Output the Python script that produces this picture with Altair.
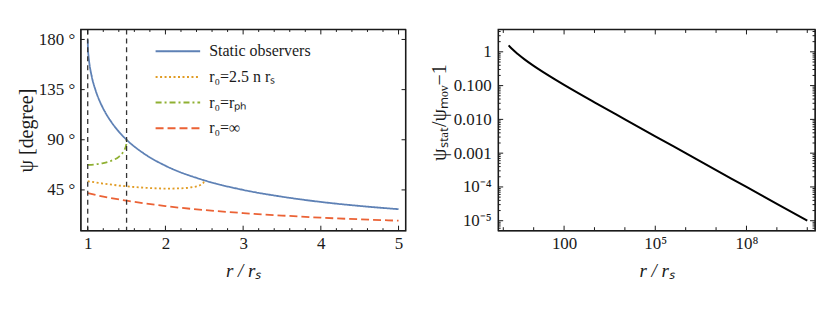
import altair as alt
import pandas as pd

# ---------------- data ----------------
series_names = ["Static observers", "r₀=2.5 n rₛ", "r₀=rₚₕ", "r₀=∞"]
series_colors = ["#5E81B5", "#E19C24", "#8FB032", "#EB6235"]
series_dash = [[1, 0], [2, 2.5], [6, 3, 2, 3], [8, 4]]

static_r = [1.0, 1.003, 1.01, 1.02, 1.05, 1.1, 1.15, 1.2, 1.3, 1.4, 1.5, 1.75, 2.0, 2.5, 3.0, 3.5, 4.0, 4.5, 5.0]
static_psi = [180, 171.8, 165.2, 159.1, 147.3, 134.6, 125.3, 117.9, 106.3, 97.3, 90, 76.4, 66.7, 53.6, 45.0, 38.9, 34.2, 30.6, 27.7]

orange_r = [1.0, 1.2, 1.5, 1.75, 2.0, 2.2, 2.3, 2.4, 2.45, 2.48, 2.49, 2.5]
orange_psi = [52.8, 50.7, 48.2, 46.9, 46.2, 46.4, 47.0, 48.2, 49.4, 50.7, 51.6, 53.6]

green_r = [1.0, 1.1, 1.2, 1.3, 1.4, 1.45, 1.48, 1.49, 1.497, 1.5]
green_psi = [67.4, 67.95, 69.1, 71.1, 74.7, 78.3, 82.0, 83.9, 86.4, 90]

red_r = [1.0, 1.1, 1.25, 1.5, 2.0, 2.5, 3.0, 3.5, 4.0, 4.5, 5.0]
red_psi = [42.1, 40.5, 38.3, 35.3, 30.5, 26.9, 24.2, 22.0, 20.1, 18.6, 17.4]

vline_r = [1.0, 1.5]

ratio_r = [1.5, 2, 3, 5, 10, 20, 50, 100, 1e3, 1e4, 1e5, 1e6, 1e7, 1e8, 1e9, 1e10]
ratio_val = [1.55, 1.187, 0.86, 0.598, 0.384, 0.255, 0.153, 0.1055, 0.0321, 0.01005,
             0.00316, 0.001, 3.16e-4, 1e-4, 3.16e-5, 1e-5]

# ticks / labels
x1_major = [1, 2, 3, 4, 5]
x1_minor = [1.2, 1.4, 1.6, 1.8, 2.2, 2.4, 2.6, 2.8, 3.2, 3.4, 3.6, 3.8,
            4.2, 4.4, 4.6, 4.8]
y1_major = [45, 90, 135, 180]
y1_labels = ["45 °", "90 °", "135 °", "180 °"]

x2_major = [100, 1e5, 1e8]
x2_labels = ["100", "10⁵", "10⁸"]
x2_minor = [1, 10, 1e3, 1e4, 1e6, 1e7, 1e9, 1e10]
y2_major = [1e-5, 1e-4, 1e-3, 1e-2, 0.1, 1]
y2_labels = ["10⁻⁵", "10⁻⁴", "0.001", "0.010", "0.100", "1"]
y2_minor = [6e-6, 7e-6, 8e-6, 9e-6,
            2e-5, 3e-5, 4e-5, 5e-5, 6e-5, 7e-5, 8e-5, 9e-5,
            2e-4, 3e-4, 4e-4, 5e-4, 6e-4, 7e-4, 8e-4, 9e-4,
            2e-3, 3e-3, 4e-3, 5e-3, 6e-3, 7e-3, 8e-3, 9e-3,
            0.02, 0.03, 0.04, 0.05, 0.06, 0.07, 0.08, 0.09,
            0.2, 0.3, 0.4, 0.5, 0.6, 0.7, 0.8, 0.9,
            2, 3, 4]

# ---------------- build tables ----------------
rows = []
for name, rs, ps in zip(series_names, [static_r, orange_r, green_r, red_r],
                        [static_psi, orange_psi, green_psi, red_psi]):
    for r, p in zip(rs, ps):
        rows.append({"r": r, "psi": p, "series": name})
df_left = pd.DataFrame(rows)
df_vl = pd.DataFrame({"r": vline_r})
df_right = pd.DataFrame({"r": ratio_r, "v": ratio_val})

FONT = "Liberation Serif"
INK = "#1a1a1a"
MAJ, MIN = 5, 2.5


def label_expr(vals, labels):
    v = "[" + ",".join(repr(float(x)) for x in vals) + "]"
    l = "[" + ",".join("'" + s + "'" for s in labels) + "]"
    return f"{l}[indexof({v}, datum.value)]"


def main_axis(**kw):
    return alt.Axis(ticks=False, domain=False, grid=False, **kw)


def x_ticks(values, xs, W, H, size):
    """inward ticks on the bottom and top frame edges"""
    d = pd.DataFrame({"r": values})
    base = alt.Chart(d).mark_rule(color=INK, strokeWidth=1)
    bot = base.encode(x=alt.X("r:Q", scale=xs), y=alt.value(H), y2=alt.value(H - size))
    top = base.encode(x=alt.X("r:Q", scale=xs), y=alt.value(0), y2=alt.value(size))
    return [bot, top]


def y_ticks(values, field, ys, W, H, size):
    """inward ticks on the left and right frame edges"""
    d = pd.DataFrame({field: values})
    base = alt.Chart(d).mark_rule(color=INK, strokeWidth=1)
    lft = base.encode(y=alt.Y(f"{field}:Q", scale=ys), x=alt.value(0), x2=alt.value(size))
    rgt = base.encode(y=alt.Y(f"{field}:Q", scale=ys), x=alt.value(W), x2=alt.value(W - size))
    return [lft, rgt]


def frame(W, H):
    return alt.Chart(pd.DataFrame({"f": [0]})).mark_rect(
        filled=False, stroke=INK, strokeWidth=1.2).encode(
        x=alt.value(0), x2=alt.value(W), y=alt.value(0), y2=alt.value(H))


# ---------------- left panel ----------------
W1, H1 = 326, 202
xs1 = alt.Scale(domain=[0.91, 5.09], nice=False, zero=False)
ys1 = alt.Scale(domain=[8.4, 189], nice=False, zero=False)

leg = alt.Legend(title=None, orient="none", legendX=74, legendY=12, symbolType="stroke",
                 symbolSize=2000, symbolStrokeWidth=2, labelFont=FONT, labelFontSize=16,
                 labelOffset=8, clipHeight=20, rowPadding=5.7, labelLimit=300,
                 labelColor=INK)

lines = alt.Chart(df_left).mark_line(interpolate="monotone", strokeWidth=1.8).encode(
    x=alt.X("r:Q", scale=xs1,
            axis=main_axis(values=x1_major, format="d", labelPadding=5, title="r / rₛ",
                           titleFontStyle="italic", titlePadding=10)),
    y=alt.Y("psi:Q", scale=ys1,
            axis=main_axis(values=y1_major, labelExpr=label_expr(y1_major, y1_labels),
                           labelPadding=6, title="ψ [degree]", titlePadding=2,
                           titleFontSize=20)),
    color=alt.Color("series:N", scale=alt.Scale(domain=series_names, range=series_colors),
                    legend=leg),
    strokeDash=alt.StrokeDash("series:N", scale=alt.Scale(domain=series_names, range=series_dash),
                              legend=leg),
)

vlines = alt.Chart(df_vl).mark_rule(color="#333333", strokeDash=[5, 4], strokeWidth=1.3).encode(
    x=alt.X("r:Q", scale=xs1),
)

left = alt.layer(
    lines, vlines,
    *x_ticks(x1_major, xs1, W1, H1, MAJ),
    *x_ticks(x1_minor, xs1, W1, H1, MIN),
    *y_ticks(y1_major, "psi", ys1, W1, H1, 4),
    frame(W1, H1),
).properties(width=W1, height=H1)

# ---------------- right panel ----------------
W2, H2 = 318, 202
xs2 = alt.Scale(type="log", domain=[0.68, 1.8e10], nice=False)
ys2 = alt.Scale(type="log", domain=[5.07e-6, 4.6], nice=False)

curve = alt.Chart(df_right).mark_line(interpolate="monotone", color="black", strokeWidth=2).encode(
    x=alt.X("r:Q", scale=xs2,
            axis=main_axis(values=x2_major, labelExpr=label_expr(x2_major, x2_labels),
                           labelPadding=5, title="r / rₛ", titleFontStyle="italic",
                           titlePadding=10)),
    y=alt.Y("v:Q", scale=ys2,
            axis=main_axis(values=y2_major, labelExpr=label_expr(y2_major, y2_labels),
                           labelPadding=7, title="ψₛₜₐₜ/ψₘₒᵥ−1", titlePadding=4,
                           titleFontSize=20, titleY=83)),
)

right = alt.layer(
    curve,
    *x_ticks(x2_major, xs2, W2, H2, MAJ),
    *x_ticks(x2_minor, xs2, W2, H2, 3.5),
    *y_ticks(y2_major, "v", ys2, W2, H2, MAJ),
    *y_ticks(y2_minor, "v", ys2, W2, H2, MIN),
    frame(W2, H2),
).properties(width=W2, height=H2)

chart = alt.hconcat(left, right, spacing=21).properties(
    padding={"left": 7, "top": 19, "right": 5, "bottom": 5}
).configure_view(stroke=INK, strokeWidth=1.2).configure_axis(
    labelFont=FONT, labelFontSize=17, labelColor=INK,
    titleFont=FONT, titleFontSize=19, titleFontWeight="normal", titleColor=INK,
)

chart.save("out.html", embed_options={"renderer": "svg", "actions": False})
